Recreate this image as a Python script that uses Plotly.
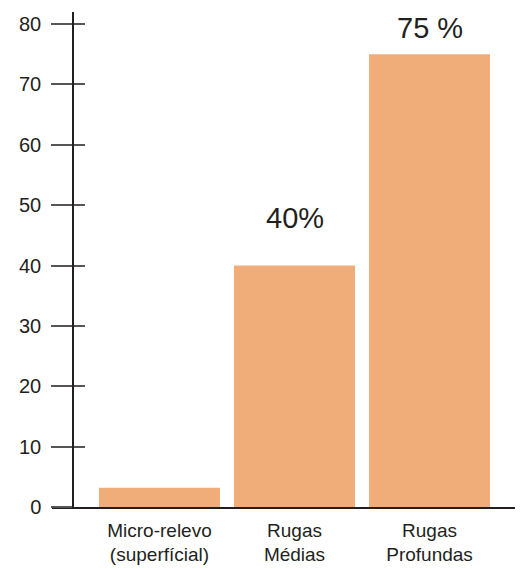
import plotly.graph_objects as go

categories = ["Micro-relevo<br>(superfícial)", "Rugas<br>Médias", "Rugas<br>Profundas"]
values = [3.2, 40, 75]
bar_labels = ["", "40%", "75 %"]
label_shifts = [0, 30, 8]
y_ticks = [0, 10, 20, 30, 40, 50, 60, 70, 80]

FONT = "Liberation Sans, Arial, Helvetica, sans-serif"
BAR_COLOR = "#F0AD7A"
x_idx = list(range(len(categories)))

fig = go.Figure()
fig.add_trace(go.Bar(x=x_idx, y=values, marker=dict(color=BAR_COLOR, line=dict(width=0)),
                     width=0.896, showlegend=False, hoverinfo="skip"))
# invisible trace to activate second (inside-tick) y axis
fig.add_trace(go.Scatter(x=[x_idx[0]], y=[values[0]], yaxis="y2", mode="markers",
                         marker=dict(opacity=0), showlegend=False, hoverinfo="skip"))

for xi, v, t, s in zip(x_idx, values, bar_labels, label_shifts):
    if t:
        fig.add_annotation(x=xi, y=v, text=t, showarrow=False, yanchor="bottom",
                           yshift=s, font=dict(size=29, color="#231f20", family=FONT))

yr = [0, 82]
pos = (73 - 52) / (515 - 52)
fig.update_layout(
    width=522, height=569,
    margin=dict(l=52, r=7, t=12, b=62, autoexpand=False),
    paper_bgcolor="white", plot_bgcolor="white",
    font=dict(family=FONT, color="#231f20"),
    xaxis=dict(range=[-0.796, 2.633], tickmode="array", tickvals=x_idx, ticktext=categories,
               showline=True, linecolor="#231f20", linewidth=1.5, ticks="",
               showgrid=False, zeroline=False, tickfont=dict(size=19, family=FONT),
               ticklabelstandoff=5, automargin=False),
    yaxis=dict(range=yr, anchor="free", position=pos, tickmode="array", tickvals=y_ticks,
               showline=True, linecolor="#231f20", linewidth=1.5,
               ticks="outside", ticklen=21, tickwidth=1.5, tickcolor="#555555",
               showgrid=False, zeroline=False, tickfont=dict(size=20, family=FONT),
               ticklabelstandoff=6, automargin=False),
    yaxis2=dict(range=yr, overlaying="y", anchor="free", position=pos, side="left",
                tickmode="array", tickvals=y_ticks, showticklabels=False,
                ticks="inside", ticklen=11, tickwidth=1.5, tickcolor="#555555",
                showline=False, showgrid=False, zeroline=False, automargin=False),
)
fig.write_html("out.html")
